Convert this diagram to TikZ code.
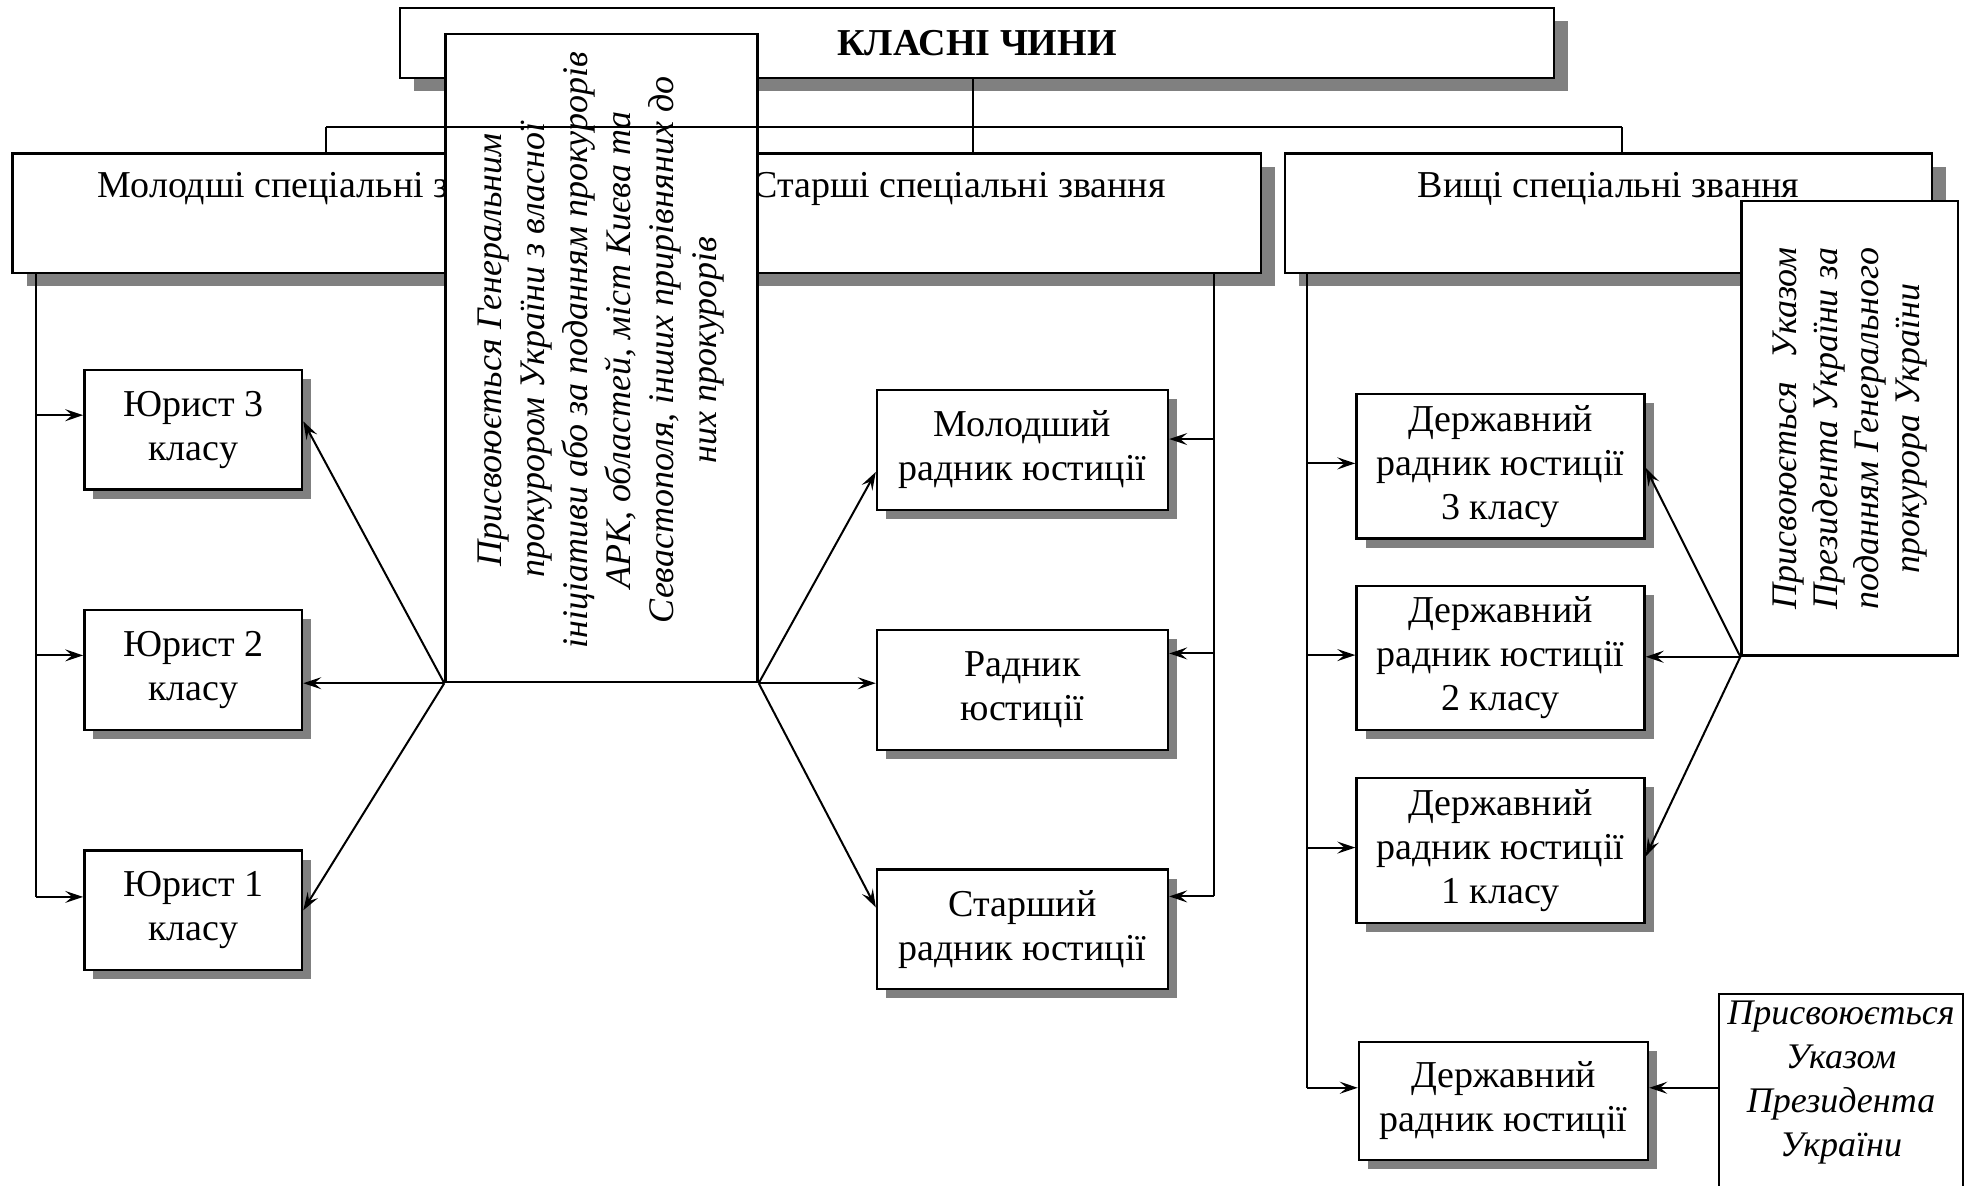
\documentclass[tikz,border=0pt]{standalone}
\usepackage{fontspec}
\setmainfont{Liberation Serif}
\usetikzlibrary{arrows.meta,shadows,calc}
\newlength\jwidth
\begin{document}
\settowidth{\jwidth}{\itshape\fontsize{18}{20.5}\selectfont поданням Генерального}%
\begin{tikzpicture}[x=0.5pt,y=-0.5pt,
  >={Stealth[length=9pt,width=6pt,inset=3.5pt]},
  boxbase/.style={draw, line width=1.2pt, fill=white, inner sep=0pt, align=center,
    font=\fontsize{19}{22}\selectfont},
  bigbox/.style={boxbase, drop shadow={shadow xshift=7pt, shadow yshift=-6.5pt, fill=gray, opacity=1}},
  smallbox/.style={boxbase, drop shadow={shadow xshift=4.5pt, shadow yshift=-4.5pt, fill=gray, opacity=1}},
  ibox/.style={draw, line width=1.2pt, fill=white, inner sep=0pt},
  itext/.style={align=center, inner sep=0pt, font=\itshape\fontsize{18}{21.5}\selectfont},
  conn/.style={line width=1pt},
  arr/.style={line width=1pt, ->},
  catlabel/.style={anchor=base, label distance=-22.5pt, font=\fontsize{19}{22}\selectfont}
]
\useasboundingbox (0,0) rectangle (1973,1185);

% top box
\node[bigbox, minimum width=577pt, minimum height=35pt] (top) at (977,43) {\bfseries КЛАСНІ ЧИНИ};

% category boxes
\node[bigbox, minimum width=306.7pt, minimum height=59.75pt,
  label={[catlabel]north:Молодші спеціальні звання}] (catA) at (319.3,213.3) {};
\node[bigbox, minimum width=302pt, minimum height=59.75pt,
  label={[catlabel]north:Старші спеціальні звання}] (catB) at (959,213.3) {};
\node[bigbox, minimum width=323.5pt, minimum height=59.75pt,
  label={[catlabel]north:Вищі спеціальні звання}] (catC) at (1608.5,213.3) {};

% left column
\node[smallbox, minimum width=108.85pt, minimum height=59.75pt] (yur3) at (193.2,429.8) {Юрист 3\\класу};
\node[smallbox, minimum width=108.85pt, minimum height=59.75pt] (yur2) at (193.2,670) {Юрист 2\\класу};
\node[smallbox, minimum width=108.85pt, minimum height=59.75pt] (yur1) at (193.2,910.3) {Юрист 1\\класу};

% middle column
\node[smallbox, minimum width=145.5pt, minimum height=59.75pt] (mol) at (1022.5,450) {Молодший\\радник юстиції};
\node[smallbox, minimum width=145.5pt, minimum height=59.75pt] (rad) at (1022.5,690) {Радник\\юстиції};
\node[smallbox, minimum width=145.5pt, minimum height=59.75pt] (star) at (1022.5,929.3) {Старший\\радник юстиції};

% right column
\node[smallbox, minimum width=144pt, minimum height=72.25pt] (d3) at (1500.5,466.3) {Державний\\радник юстиції\\3 класу};
\node[smallbox, minimum width=144pt, minimum height=72.25pt] (d2) at (1500.5,658) {Державний\\радник юстиції\\2 класу};
\node[smallbox, minimum width=144pt, minimum height=72.25pt] (d1) at (1500.5,850.5) {Державний\\радник юстиції\\1 класу};
\node[smallbox, minimum width=144.5pt, minimum height=59pt] (dr) at (1503.5,1101) {Державний\\радник юстиції};

% italic boxes
\node[ibox, minimum width=156pt, minimum height=324pt] (pr1) at (601.5,358) {};
\node[itext, rotate=90] (pr1t) at ([yshift=4pt]pr1.center) {Присвоюється Генеральним\\прокурором України з власної\\ініціативи або за поданням прокурорів\\АРК, областей, міст Києва та\\Севастополя, інших прирівняних до\\них прокурорів};

\node[ibox, minimum width=108.25pt, minimum height=227.25pt] (pr2) at (1849.8,428.3) {};
\node[itext, rotate=90, font=\itshape\fontsize{18}{20.5}\selectfont] (pr2t) at (pr2.center) {%
\makebox[\jwidth][s]{Присвоюється Указом}\\
\makebox[\jwidth][s]{Президента України за}\\
\makebox[\jwidth][s]{поданням Генерального}\\
прокурора України};

\node[ibox, minimum width=122pt, minimum height=118pt] (pr3) at (1841,1112) {};
\node[itext, font=\itshape\fontsize{18}{22}\selectfont] (pr3t) at (1841,1083) {Присвоюється\\Указом\\Президента\\України};

% top bus
\coordinate (busL) at (326,127);
\coordinate (busR) at (1622,127);
\coordinate (busM) at (973,127);
\draw[conn] (busM |- top.south) -- (busM |- catB.north);
\draw[conn] (busL) -- (busR);
\draw[conn] (busL) -- (busL |- catA.north);
\draw[conn] (busR) -- (busR |- catC.north);

% left bus
\coordinate (lb) at ([xshift=12.5pt]catA.south west);
\coordinate (y3l) at ($(yur3.north west)!0.38!(yur3.south west)$);
\coordinate (y2l) at ($(yur2.north west)!0.38!(yur2.south west)$);
\coordinate (y1l) at ($(yur1.north west)!0.39!(yur1.south west)$);
\draw[conn] (lb) -- (lb |- y1l);
\draw[arr] (lb |- y3l) -- (y3l);
\draw[arr] (lb |- y2l) -- (y2l);
\draw[arr] (lb |- y1l) -- (y1l);
\draw[arr] (pr1.south west) -- ($(yur3.north east)!0.43!(yur3.south east)$);
\draw[arr] (pr1.south west) -- (pr1.south west -| yur2.east);
\draw[arr] (pr1.south west) -- ($(yur1.north east)!0.5!(yur1.south east)$);

% middle bus
\coordinate (mb) at ([xshift=-24pt]catB.south east);
\coordinate (m1r) at ($(mol.north east)!0.41!(mol.south east)$);
\coordinate (m2r) at ($(rad.north east)!0.2!(rad.south east)$);
\coordinate (m3r) at ($(star.north east)!0.23!(star.south east)$);
\draw[conn] (mb) -- (mb |- m3r);
\draw[arr] (mb |- m1r) -- (m1r);
\draw[arr] (mb |- m2r) -- (m2r);
\draw[arr] (mb |- m3r) -- (m3r);
\draw[arr] (pr1.south east) -- ($(mol.north west)!0.68!(mol.south west)$);
\draw[arr] (pr1.south east) -- (pr1.south east -| rad.west);
\draw[arr] (pr1.south east) -- ($(star.north west)!0.32!(star.south west)$);

% right bus
\coordinate (rb) at ([xshift=11.8pt]catC.south west);
\coordinate (r3l) at ($(d3.north west)!0.48!(d3.south west)$);
\coordinate (r2l) at ($(d2.north west)!0.48!(d2.south west)$);
\coordinate (r1l) at ($(d1.north west)!0.48!(d1.south west)$);
\coordinate (r0l) at ($(dr.north west)!0.39!(dr.south west)$);
\draw[conn] (rb) -- (rb |- r0l);
\draw[arr] (rb |- r3l) -- (r3l);
\draw[arr] (rb |- r2l) -- (r2l);
\draw[arr] (rb |- r1l) -- (r1l);
\draw[arr] (rb |- r0l) -- (r0l);
\draw[arr] (pr2.south west) -- ($(d3.north east)!0.51!(d3.south east)$);
\draw[arr] (pr2.south west) -- (pr2.south west -| d2.east);
\draw[arr] (pr2.south west) -- ($(d1.north east)!0.54!(d1.south east)$);
\coordinate (r0r) at ($(dr.north east)!0.39!(dr.south east)$);
\draw[arr] (r0r -| pr3.west) -- (r0r);
\end{tikzpicture}
\end{document}
